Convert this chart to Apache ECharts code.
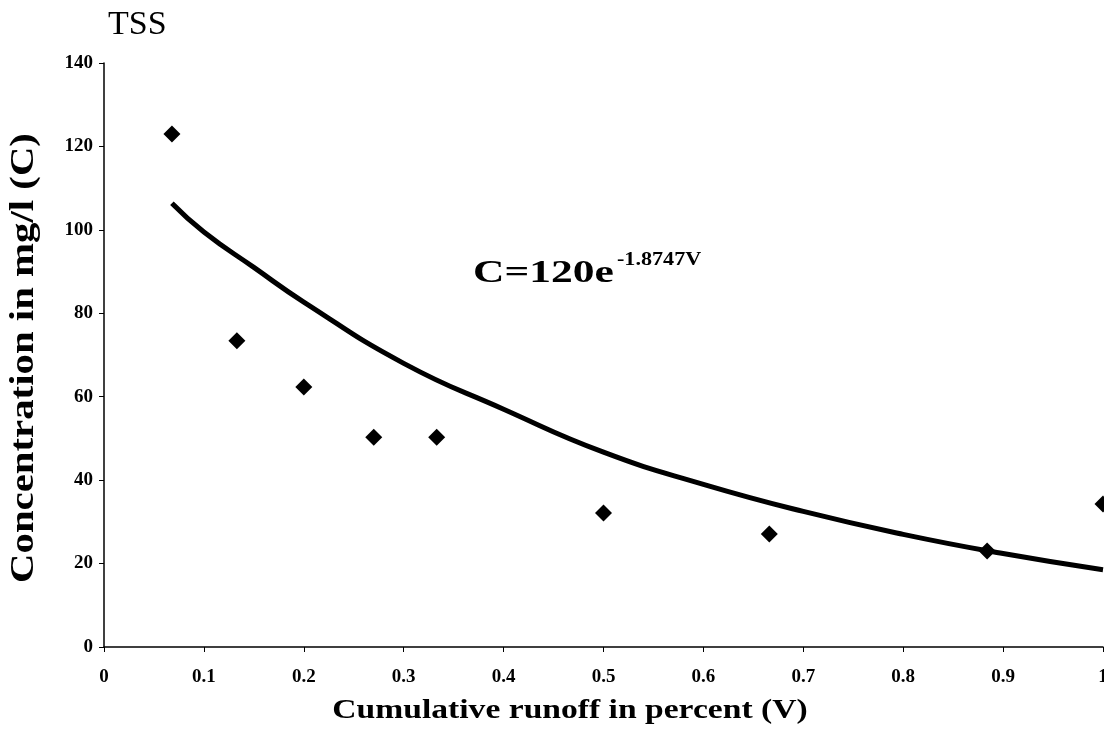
<!DOCTYPE html>
<html><head><meta charset="utf-8">
<script src="https://cdn.jsdelivr.net/npm/echarts@6/dist/echarts.min.js"></script>
<style>html,body{margin:0;padding:0;background:#fff}#c{width:1104px;height:739px}</style>
</head><body><div id="c"></div>
<script>
const runoffV = [0.068, 0.133, 0.2, 0.27, 0.333, 0.5, 0.666, 0.884, 1.0];
const concC = [123, 73.4, 62.3, 50.3, 50.3, 32.1, 27.1, 23, 34.3];
const trendV = [0.068, 0.1, 0.15, 0.2, 0.3, 0.4, 0.5, 0.6, 0.7, 0.8, 0.9, 1.0];
const trendC = [106.4, 99.5, 91, 82.7, 68, 57, 46.7, 39, 32.5, 27, 22.4, 18.5];
const titleText = 'TSS';
const xTitle = 'Cumulative runoff in percent (V)';
const yTitle = 'Concentration in mg/l (C)';
const equationText = 'C=120e';
const equationExp = '-1.8747V';

const chart = echarts.init(document.getElementById('c'));
const serif = 'Liberation Serif';
chart.setOption({
  animation: false,
  backgroundColor: '#fff',
  grid: { left: 104, right: 1, top: 63, bottom: 92, containLabel: false, outerBoundsMode: 'none' },
  xAxis: {
    type: 'value', min: 0, max: 1, interval: 0.1,
    axisLine: { show: true, lineStyle: { color: '#000', width: 1.5 } },
    axisTick: { show: true, length: 5, lineStyle: { color: '#000' } },
    axisLabel: { fontFamily: serif, fontSize: 19, fontWeight: 'bold', color: '#000', margin: 21, showMaxLabel: true, hideOverlap: false },
    splitLine: { show: false }
  },
  yAxis: {
    type: 'value', min: 0, max: 140, interval: 20,
    axisLine: { show: true, lineStyle: { color: '#000', width: 1.5 } },
    axisTick: { show: true, length: 5, lineStyle: { color: '#000' } },
    axisLabel: { fontFamily: serif, fontSize: 19, fontWeight: 'bold', color: '#000', margin: 11 },
    splitLine: { show: false }
  },
  series: [
    {
      type: 'line', smooth: true, showSymbol: false, silent: true,
      data: trendV.map((v, i) => [v, trendC[i]]),
      lineStyle: { color: '#000', width: 5 }, z: 2
    },
    {
      type: 'scatter', symbol: 'diamond', symbolSize: [17, 17],
      data: runoffV.map((v, i) => [v, concC[i]]),
      itemStyle: { color: '#000', opacity: 1 }, z: 3
    }
  ],
  graphic: [
    { type: 'text', x: 108, y: 25, style: { text: titleText, font: '34px "Liberation Serif"', fill: '#000', align: 'left', verticalAlign: 'middle' } },
    { type: 'text', x: 570, y: 711, scaleX: 1.2, style: { text: xTitle, font: 'bold 28px "Liberation Serif"', fill: '#000', align: 'center', verticalAlign: 'middle' } },
    { type: 'text', x: 24, y: 358, rotation: Math.PI / 2, scaleX: 1.2, style: { text: yTitle, font: 'bold 34px "Liberation Serif"', fill: '#000', align: 'center', verticalAlign: 'middle' } },
    { type: 'text', x: 473, y: 274, scaleX: 1.36, style: { text: equationText, font: 'bold 32px "Liberation Serif"', fill: '#000', align: 'left', verticalAlign: 'middle' } },
    { type: 'text', x: 617, y: 260, scaleX: 1.23, style: { text: equationExp, font: 'bold 18px "Liberation Serif"', fill: '#000', align: 'left', verticalAlign: 'middle' } }
  ]
});
</script></body></html>
